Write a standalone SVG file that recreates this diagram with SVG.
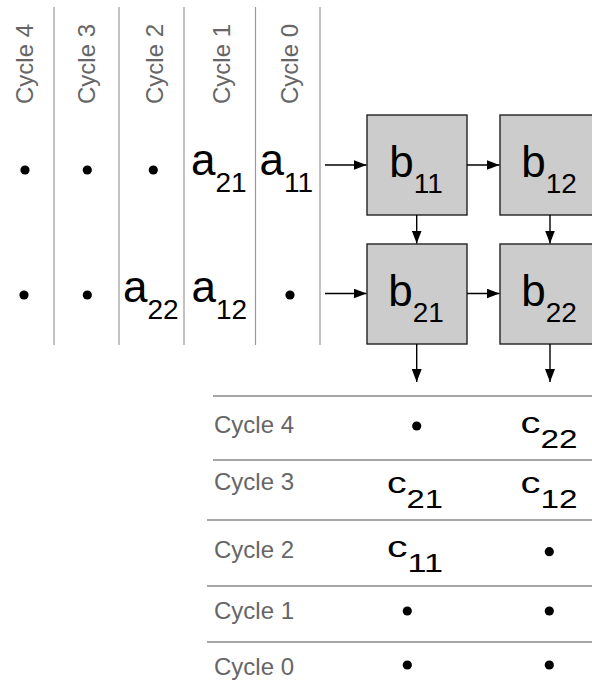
<svg xmlns="http://www.w3.org/2000/svg" width="592" height="681" viewBox="0 0 592 681">
<defs>
<marker id="ah" markerUnits="userSpaceOnUse" markerWidth="14" markerHeight="10" refX="13" refY="5" orient="auto">
<path d="M0,0 L13,5 L0,10 z" fill="#000"/>
</marker>
<style>
.cyc{font-family:"Liberation Sans",Arial,sans-serif;font-size:24px;fill:#666}
.lbl{font-family:"Liberation Sans",Arial,sans-serif;font-size:44px;fill:#000}
.sub{font-size:28px}
.cl{font-family:"Liberation Sans",Arial,sans-serif;font-size:30px;fill:#000}
.csub{font-size:25px}
.vl{stroke:#999;stroke-width:1.2}
.hl{stroke:#888;stroke-width:1.4}
.box{fill:#cccccc;stroke:#222;stroke-width:1.4}
.arr{stroke:#000;stroke-width:1.4;fill:none;marker-end:url(#ah)}
.dot{fill:#000}
</style>
</defs>
<rect width="592" height="681" fill="#fff"/>

<g id="input-columns">
<line class="vl" x1="54" y1="7" x2="54" y2="345"/>
<line class="vl" x1="119" y1="7" x2="119" y2="345"/>
<line class="vl" x1="184" y1="7" x2="184" y2="345"/>
<line class="vl" x1="255.5" y1="7" x2="255.5" y2="345"/>
<line class="vl" x1="320" y1="7" x2="320" y2="345"/>
<text class="cyc" transform="translate(33,104) rotate(-90)">Cycle 4</text>
<text class="cyc" transform="translate(95,104) rotate(-90)">Cycle 3</text>
<text class="cyc" transform="translate(163,104) rotate(-90)">Cycle 2</text>
<text class="cyc" transform="translate(230,104) rotate(-90)">Cycle 1</text>
<text class="cyc" transform="translate(298,104) rotate(-90)">Cycle 0</text>
<circle class="dot" cx="25" cy="170" r="4.6"/>
<circle class="dot" cx="87.3" cy="170" r="4.6"/>
<circle class="dot" cx="153.3" cy="170" r="4.6"/>
<text class="lbl" x="191" y="175">a<tspan class="sub" dy="17">21</tspan></text>
<text class="lbl" x="259.5" y="175">a<tspan class="sub" dy="17">11</tspan></text>
<circle class="dot" cx="24" cy="295" r="4.6"/>
<circle class="dot" cx="87.3" cy="295" r="4.6"/>
<text class="lbl" x="123" y="302">a<tspan class="sub" dy="17">22</tspan></text>
<text class="lbl" x="191.5" y="302">a<tspan class="sub" dy="17">12</tspan></text>
<circle class="dot" cx="290" cy="295" r="4.6"/>
</g>

<g id="b11">
<rect class="box" x="367" y="115" width="100" height="100"/>
<text class="lbl" x="416" y="176.5" text-anchor="middle">b<tspan class="sub" dy="16">11</tspan></text>
</g>
<g id="b12">
<rect class="box" x="500" y="115" width="100" height="100"/>
<text class="lbl" x="549" y="176.5" text-anchor="middle">b<tspan class="sub" dy="16">12</tspan></text>
</g>
<g id="b21">
<rect class="box" x="367" y="244" width="100" height="100"/>
<text class="lbl" x="416" y="305.5" text-anchor="middle">b<tspan class="sub" dy="16">21</tspan></text>
</g>
<g id="b22">
<rect class="box" x="500" y="244" width="100" height="100"/>
<text class="lbl" x="549" y="305.5" text-anchor="middle">b<tspan class="sub" dy="16">22</tspan></text>
</g>

<g id="connectors">
<line class="arr" x1="325" y1="165" x2="366.5" y2="165"/>
<line class="arr" x1="467" y1="165" x2="499.5" y2="165"/>
<line class="arr" x1="325" y1="293.5" x2="366.5" y2="293.5"/>
<line class="arr" x1="467" y1="293.5" x2="499.5" y2="293.5"/>
<line class="arr" x1="416.7" y1="215" x2="416.7" y2="243.5"/>
<line class="arr" x1="550" y1="215" x2="550" y2="243.5"/>
<line class="arr" x1="416.7" y1="344" x2="416.7" y2="382"/>
<line class="arr" x1="550" y1="344" x2="550" y2="382"/>
</g>

<g id="output-table">
<line class="hl" x1="213" y1="396" x2="592" y2="396"/>
<line class="hl" x1="213" y1="460" x2="592" y2="460"/>
<line class="hl" x1="207" y1="520" x2="592" y2="520"/>
<line class="hl" x1="207" y1="586" x2="592" y2="586"/>
<line class="hl" x1="207" y1="642" x2="592" y2="642"/>
<text class="cyc" x="214" y="432.5">Cycle 4</text>
<text class="cyc" x="214" y="490">Cycle 3</text>
<text class="cyc" x="214" y="558">Cycle 2</text>
<text class="cyc" x="214" y="619">Cycle 1</text>
<text class="cyc" x="214" y="675">Cycle 0</text>
<circle class="dot" cx="416.7" cy="426" r="4.6"/>
<text class="cl" x="520.5" y="433" textLength="57" lengthAdjust="spacingAndGlyphs">c<tspan class="csub" dy="15">22</tspan></text>
<text class="cl" x="387" y="493" textLength="56" lengthAdjust="spacingAndGlyphs">c<tspan class="csub" dy="15">21</tspan></text>
<text class="cl" x="520.5" y="493" textLength="57" lengthAdjust="spacingAndGlyphs">c<tspan class="csub" dy="15">12</tspan></text>
<text class="cl" x="387" y="556.5" textLength="56" lengthAdjust="spacingAndGlyphs">c<tspan class="csub" dy="15">11</tspan></text>
<circle class="dot" cx="549.3" cy="551.7" r="4.6"/>
<circle class="dot" cx="407.3" cy="611" r="4.6"/>
<circle class="dot" cx="549.3" cy="611" r="4.6"/>
<circle class="dot" cx="407.3" cy="665" r="4.6"/>
<circle class="dot" cx="549.3" cy="665" r="4.6"/>
</g>
</svg>
